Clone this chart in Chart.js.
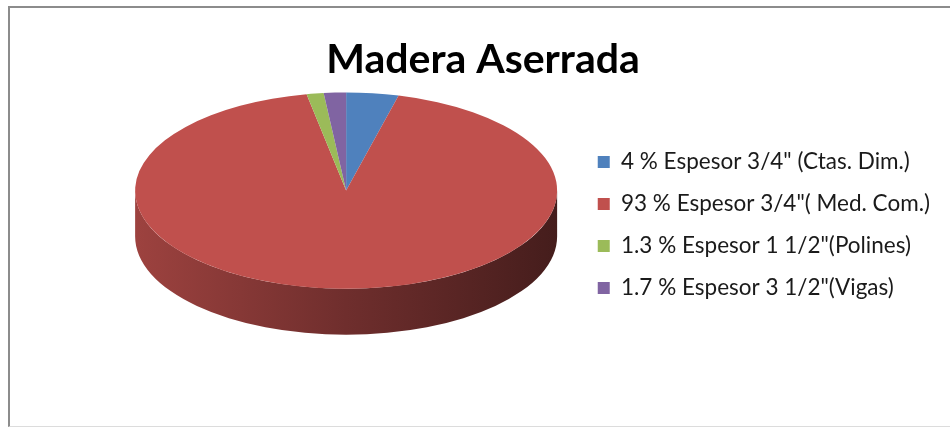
<!DOCTYPE html>
<html>
<head>
<meta charset="utf-8">
<script src="https://cdn.jsdelivr.net/npm/chart.js@4"></script>
<style>
  html, body { margin: 0; padding: 0; background: #fff; }
  #wrap { position: relative; width: 950px; height: 427px; overflow: hidden; }
  #frame { position: absolute; left: 8px; top: 6px; width: 960px; height: 418px;
           border-top: 2px solid #8c8c8c; border-left: 2px solid #8c8c8c; border-bottom: 1px solid #dcdcdc; }
  canvas { position: absolute; left: 0; top: 0; }
</style>
</head>
<body>
<div id="wrap">
  <div id="frame"></div>
  <canvas id="pie-chart" width="950" height="427"></canvas>
</div>
<script>
var labels = ['4 % Espesor 3/4" (Ctas. Dim.)', '93 % Espesor 3/4"( Med. Com.)',
    '1.3 % Espesor 1 1/2"(Polines)', '1.7 % Espesor 3 1/2"(Vigas)'];
var values = [4, 93, 1.3, 1.7];
var colors = ["#4F81BD", "#C0504D", "#9BBB59", "#8064A2"];

// darken a hex colour by factor f
function shade(hex, f) {
    var n = parseInt(hex.slice(1), 16);
    var r = Math.round(((n >> 16) & 255) * f), g = Math.round(((n >> 8) & 255) * f), b = Math.round((n & 255) * f);
    return "rgb(" + r + "," + g + "," + b + ")";
}

// fake 3D: squash the pie vertically and draw the front wall under it
var pie3d = {
    id: 'pie3d',
    beforeDatasetsDraw: function (chart, args, opts) {
        var ctx = chart.ctx;
        var arcs = chart.getDatasetMeta(0).data;
        var cx = arcs[0].x, cy = arcs[0].y, r = arcs[0].outerRadius;
        var ex = cx + opts.shiftX, ey = cy + opts.shiftY, ry = r * opts.tilt;
        arcs.forEach(function (arc, i) {
            var a = Math.max(arc.startAngle, 0), b = Math.min(arc.endAngle, Math.PI);
            if (b <= a) return;
            var g = ctx.createLinearGradient(ex - r, 0, ex + r, 0);
            g.addColorStop(0, shade(colors[i], 0.82));
            g.addColorStop(0.5, shade(colors[i], 0.58));
            g.addColorStop(1, shade(colors[i], 0.36));
            ctx.beginPath();
            ctx.ellipse(ex, ey, r, ry, 0, a, b);
            ctx.ellipse(ex, ey + opts.depth, r, ry, 0, b, a, true);
            ctx.closePath();
            ctx.fillStyle = g;
            ctx.fill();
        });
        ctx.save();
        ctx.translate(ex, ey);
        ctx.scale(1, opts.tilt);
        ctx.translate(-cx, -cy);
    },
    afterDatasetsDraw: function (chart) {
        chart.ctx.restore();
    }
};

var ctx = document.getElementById("pie-chart");

var myChart = new Chart(ctx, {
    type: 'pie',
    data: {
        labels: labels,
        datasets: [{
            data: values,
            backgroundColor: colors,
            borderWidth: 0,
            radius: 211
        }]
    },
    options: {
        responsive: false,
        animation: false,
        layout: {
            padding: { left: 26, right: 10, top: 23, bottom: 0 }
        },
        plugins: {
            title: {
                display: true,
                text: 'Madera Aserrada',
                color: '#000',
                font: { family: 'Lato', size: 41, weight: 'bold' },
                padding: { top: 12, bottom: 10 }
            },
            legend: {
                position: 'right',
                labels: {
                    color: '#1a1a1a',
                    boxWidth: 12,
                    boxHeight: 12,
                    padding: 19.5,
                    font: { family: 'Lato', size: 22.5 }
                }
            },
            tooltip: { enabled: false },
            pie3d: { tilt: 0.465, depth: 46, shiftX: 44, shiftY: -70 }
        }
    },
    plugins: [pie3d]
});
</script>
</body>
</html>
